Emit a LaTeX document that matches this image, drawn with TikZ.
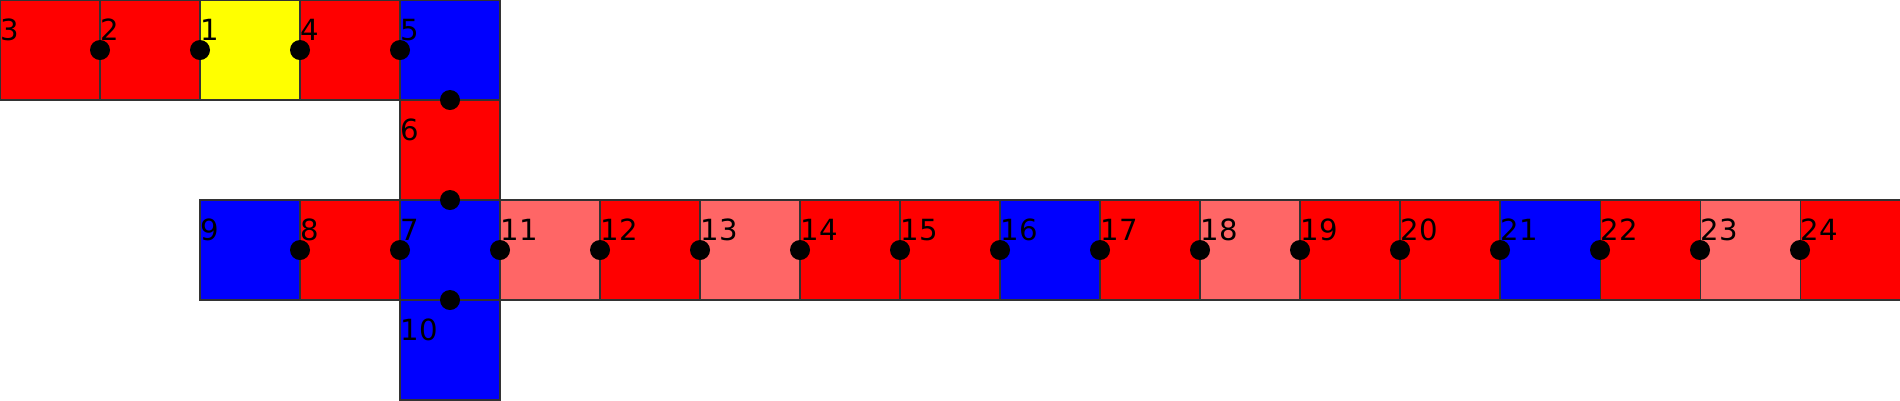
\documentclass[tikz,border=0pt]{standalone}
\usepackage{fontspec}
\setmainfont{DejaVu Sans}
\definecolor{lred}{HTML}{FF6666}
\definecolor{cred}{HTML}{FF0000}
\definecolor{cblue}{HTML}{0000FF}
\definecolor{cyel}{HTML}{FFFF00}
\tikzset{
  cell/.style={draw=black!80, line width=0.3pt, minimum size=1cm, inner sep=0pt, outer sep=0pt},
  lab/.style={anchor=base west, inner sep=0pt, font=\fontsize{8.3}{9}\selectfont},
  dot/.style={circle, fill=black, minimum size=0.2cm, inner sep=0pt}
}
\begin{document}
\begin{tikzpicture}[y=-1cm]
\useasboundingbox (0,0) rectangle (19,4);
% cells: name/col/row/colour
\foreach \n/\c/\r/\col in {3/0/0/cred,2/1/0/cred,1/2/0/cyel,4/3/0/cred,5/4/0/cblue,
  6/4/1/cred,
  9/2/2/cblue,8/3/2/cred,7/4/2/cblue,11/5/2/lred,12/6/2/cred,13/7/2/lred,14/8/2/cred,
  15/9/2/cred,16/10/2/cblue,17/11/2/cred,18/12/2/lred,19/13/2/cred,20/14/2/cred,
  21/15/2/cblue,22/16/2/cred,23/17/2/lred,24/18/2/cred,
  10/4/3/cblue}{
  \node[cell, fill=\col] (c\n) at (\c+0.5,\r+0.5) {};
  \node[lab] (l\n) at (\c,\r+0.40) {\n};
}
% dots at shared edges
\node[dot] (d32) at (c3.east) {};
\node[dot] (d21) at (c2.east) {};
\node[dot] (d14) at (c1.east) {};
\node[dot] (d45) at (c4.east) {};
\node[dot] (d56) at (c5.south) {};
\node[dot] (d67) at (c6.south) {};
\node[dot] (d98) at (c9.east) {};
\node[dot] (d87) at (c8.east) {};
\node[dot] (d710) at (c7.south) {};
\foreach \a/\b in {7/11,11/12,12/13,13/14,14/15,15/16,16/17,17/18,18/19,19/20,20/21,21/22,22/23,23/24}{
  \node[dot] (d\a-\b) at (c\a.east) {};
}
\end{tikzpicture}
\end{document}
